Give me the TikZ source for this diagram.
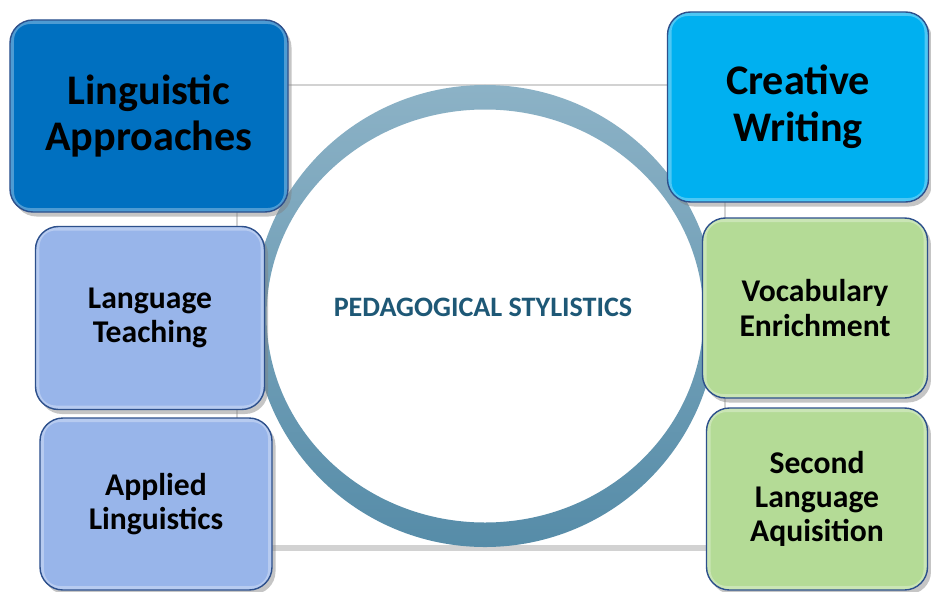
\documentclass[tikz,border=0pt]{standalone}
\usepackage{fontspec}
\setmainfont{Carlito}
\usepackage{tikz}
\usetikzlibrary{shadows}

\definecolor{approachblue}{RGB}{0,112,192}
\definecolor{writingblue}{RGB}{0,176,240}
\definecolor{teachblue}{RGB}{152,181,234}
\definecolor{enrichgreen}{RGB}{180,219,150}
\definecolor{edgeblue}{RGB}{45,80,140}
\definecolor{ringtop}{RGB}{140,178,198}
\definecolor{ringbottom}{RGB}{86,140,168}
\definecolor{titleteal}{RGB}{30,88,118}

\begin{document}
\begin{tikzpicture}[x=0.2mm, y=-0.2mm,
		topic/.style={draw=edgeblue, line width=0.8pt, rounded corners=4.6mm, inner sep=0pt, align=center,
			font=\bfseries\fontsize{18}{19.5}\selectfont,
			drop shadow={shadow xshift=0.7mm, shadow yshift=-0.9mm, opacity=0.45},
			path picture={\draw[white, opacity=0.3, line width=1.6mm, rounded corners=4mm]
				(path picture bounding box.north west) rectangle (path picture bounding box.south east);}},
		maintopic/.style={topic, font=\bfseries\fontsize{24}{26.5}\selectfont}]
			{\useasboundingbox (0,0) rectangle (931,591);}
			{\fill[white] (0,0) rectangle (931,591);}
			% frame behind the ring
			{\draw[gray!35, line width=1.2pt, drop shadow={shadow xshift=0pt, shadow yshift=-1mm, opacity=0.35}, fill=white] (237,85) rectangle (725,546);}
			% ring
			{\shade[top color=ringtop, bottom color=ringbottom, even odd rule]
				(485,316) ellipse [x radius=46.4mm, y radius=46.2mm]
				(485,316) ellipse [x radius=43.7mm, y radius=41.3mm];}
			{\node[text=titleteal, font=\bfseries\fontsize{16}{18}\selectfont] (core) at (483,307) {PEDAGOGICAL STYLISTICS};}
			% left column
			{\node[maintopic, fill=approachblue, minimum width=55.6mm, minimum height=38.4mm] (approach) at (149,116) {Linguistic\\Approaches};}
			{\node[topic, fill=teachblue, minimum width=45.8mm, minimum height=36.6mm] (teach) at (150,318) {Language\\Teaching};}
			{\node[topic, fill=teachblue, minimum width=46.4mm, minimum height=34.4mm] (applied) at (156,504) {Applied\\Linguistics};}
			% right column
			{\node[maintopic, fill=writingblue, minimum width=52.2mm, minimum height=38mm] (writing) at (798,107) {Creative\\Writing};}
			{\node[topic, fill=enrichgreen, minimum width=45mm, minimum height=36mm] (vocab) at (815,308) {Vocabulary\\Enrichment};}
			{\node[topic, fill=enrichgreen, minimum width=44.2mm, minimum height=36.4mm] (second) at (817,499) {Second\\Language\\Aquisition};}
		\end{tikzpicture}
\end{document}
